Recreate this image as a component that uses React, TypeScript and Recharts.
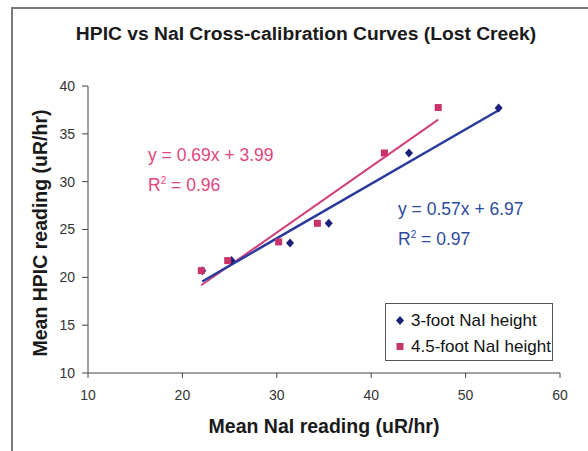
import { ScatterChart, Scatter, XAxis, YAxis } from 'recharts'

// 3-foot NaI detector height
const naiX3ft = [22.1, 25.2, 31.4, 35.5, 44.0, 53.5]
const hpic3ft = [20.7, 21.75, 23.6, 25.65, 33.0, 37.7]
// 4.5-foot NaI detector height
const naiX45ft = [22.0, 24.8, 30.2, 34.3, 41.4, 47.1]
const hpic45ft = [20.7, 21.75, 23.7, 25.65, 33.0, 37.75]

// linear fits as printed on the chart
const fit3ft = { slope: 0.57, intercept: 6.97, r2: 0.97 }
const fit45ft = { slope: 0.69, intercept: 3.99, r2: 0.96 }

const xTicks = [10, 20, 30, 40, 50, 60]
const yTicks = [10, 15, 20, 25, 30, 35, 40]

const BLUE = '#1c1f78'
const BLUE_LINE = '#2a3a9c'
const BLUE_TEXT = '#2e4a9e'
const PINK = '#c8336a'
const PINK_LINE = '#d0407a'
const PINK_TEXT = '#e0457e'
const FONT = '"Liberation Sans", Arial, sans-serif'

const toPoints = (xs: number[], ys: number[]) => xs.map((x, i) => ({ x, y: ys[i] }))

const fitLine = (xs: number[], fit: { slope: number; intercept: number }) => {
  const lo = Math.min(...xs)
  const hi = Math.max(...xs)
  return [
    { x: lo, y: fit.slope * lo + fit.intercept },
    { x: hi, y: fit.slope * hi + fit.intercept },
  ]
}

const Diamond = (props: any) => {
  const { cx, cy } = props
  return <polygon points={`${cx},${cy - 4.5} ${cx + 4},${cy} ${cx},${cy + 4.5} ${cx - 4},${cy}`} fill={BLUE} />
}

const Square = (props: any) => {
  const { cx, cy } = props
  return <rect x={cx - 3.5} y={cy - 3.5} width={7} height={7} fill={PINK} />
}

const NoMarker = () => <g />

const LegendBox = () => (
  <div
    style={{
      position: 'absolute',
      left: 385,
      top: 303,
      border: '1.5px solid #555',
      background: '#fff',
      width: 168,
      height: 58,
      boxSizing: 'border-box',
      padding: '4px 0 0 9px',
      fontSize: 17,
      color: '#111',
      lineHeight: '26px',
    }}
  >
    <div style={{ display: 'flex', alignItems: 'center' }}>
      <svg width={12} height={12} style={{ marginRight: 4 }}>
        <polygon points="5,1 9,5.5 5,10 1,5.5" fill={BLUE} />
      </svg>
      3-foot NaI height
    </div>
    <div style={{ display: 'flex', alignItems: 'center' }}>
      <svg width={12} height={12} style={{ marginRight: 4 }}>
        <rect x={1.5} y={2} width={7} height={7} fill={PINK} />
      </svg>
      4.5-foot NaI height
    </div>
  </div>
)

export default function App() {
  const tick = { fontSize: 14, fill: '#333', fontFamily: FONT }
  return (
    <div
      style={{
        position: 'absolute',
        left: 0,
        top: 0,
        width: 588,
        height: 451,
        background: '#fff',
        overflow: 'hidden',
        fontFamily: FONT,
      }}
    >
      <div
        style={{
          position: 'absolute',
          left: 11,
          top: 7,
          width: 600,
          height: 470,
          border: '2px solid #7a7a7a',
        }}
      />
      <div
        style={{
          position: 'absolute',
          left: 306,
          top: 34,
          transform: 'translate(-50%, -50%) scaleX(1.07)',
          whiteSpace: 'nowrap',
          fontWeight: 'bold',
          fontSize: 18,
          color: '#1a1a1a',
        }}
      >
        HPIC vs NaI Cross-calibration Curves (Lost Creek)
      </div>

      <ScatterChart
        width={588}
        height={451}
        margin={{ top: 86, right: 28, bottom: 48, left: 28 }}
        style={{ position: 'absolute', left: 0, top: 0 }}
      >
        <XAxis
          type="number"
          dataKey="x"
          domain={[10, 60]}
          ticks={xTicks}
          tick={tick}
          tickSize={5}
          tickMargin={12}
          height={30}
          stroke="#444"
          allowDataOverflow
        />
        <YAxis
          type="number"
          dataKey="y"
          domain={[10, 40]}
          ticks={yTicks}
          tick={tick}
          tickSize={6}
          tickMargin={7}
          width={60}
          stroke="#444"
          allowDataOverflow
        />
        <Scatter
          data={fitLine(naiX45ft, fit45ft)}
          line={{ stroke: PINK_LINE, strokeWidth: 2 }}
          shape={NoMarker}
          legendType="none"
          isAnimationActive={false}
        />
        <Scatter
          data={fitLine(naiX3ft, fit3ft)}
          line={{ stroke: BLUE_LINE, strokeWidth: 2.5 }}
          shape={NoMarker}
          legendType="none"
          isAnimationActive={false}
        />
        <Scatter
          name="3-foot NaI height"
          data={toPoints(naiX3ft, hpic3ft)}
          shape={Diamond}
          isAnimationActive={false}
        />
        <Scatter
          name="4.5-foot NaI height"
          data={toPoints(naiX45ft, hpic45ft)}
          shape={Square}
          isAnimationActive={false}
        />
      </ScatterChart>

      <LegendBox />

      <div
        style={{
          position: 'absolute',
          left: 148,
          top: 142,
          fontSize: 17.5,
          color: PINK_TEXT,
          lineHeight: '26px',
        }}
      >
        <div>
          y = {fit45ft.slope}x + {fit45ft.intercept}
        </div>
        <div>
          R<sup style={{ fontSize: 10 }}>2</sup> = {fit45ft.r2}
        </div>
      </div>
      <div
        style={{
          position: 'absolute',
          left: 398,
          top: 196,
          fontSize: 17.5,
          color: BLUE_TEXT,
          lineHeight: '26px',
        }}
      >
        <div>
          y = {fit3ft.slope}x + {fit3ft.intercept}
        </div>
        <div>
          R<sup style={{ fontSize: 10 }}>2</sup> = {fit3ft.r2}
        </div>
      </div>

      <div
        style={{
          position: 'absolute',
          left: 88,
          top: 415,
          width: 472,
          textAlign: 'center',
          fontWeight: 'bold',
          fontSize: 19.5,
          color: '#1a1a1a',
        }}
      >
        Mean NaI reading (uR/hr)
      </div>
      <div
        style={{
          position: 'absolute',
          left: 40,
          top: 233,
          transform: 'translate(-50%, -50%) rotate(-90deg)',
          whiteSpace: 'nowrap',
          fontWeight: 'bold',
          fontSize: 19.5,
          color: '#1a1a1a',
        }}
      >
        Mean HPIC reading (uR/hr)
      </div>
    </div>
  )
}
